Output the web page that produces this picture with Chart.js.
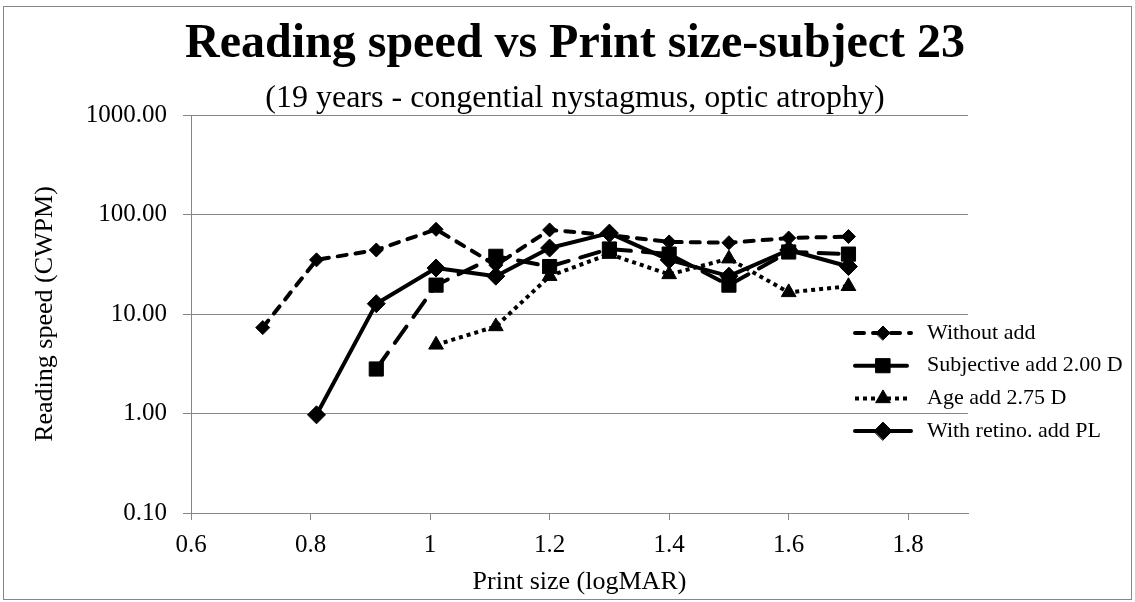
<!DOCTYPE html>
<html>
<head>
<meta charset="utf-8">
<title>Reading speed vs Print size</title>
<script src="https://cdn.jsdelivr.net/npm/chart.js@4.4.0/dist/chart.umd.min.js"></script>
<style>
  html, body { margin: 0; padding: 0; background: #fff; }
  #chart { display: block; }
</style>
</head>
<body>
<canvas id="chart" width="1135" height="602"></canvas>
<script>
// print size (logMAR) and reading speed (CWPM) per condition
const printSize     = [0.72, 0.81, 0.91, 1.01, 1.11, 1.2, 1.3, 1.4, 1.5, 1.6, 1.7];
const withoutAdd    = [7.3, 35, 44, 71, 31, 70, 62, 53, 52, 58, 60];
const subjectiveAdd = [null, null, 2.8, 19.5, 38, 30, 45, 40, 19.5, 42, 40];
const ageAdd        = [null, null, null, 4.9, 7.5, 24, 40, 25, 36, 16.5, 19];
const retinoAdd     = [null, 0.97, 12.7, 29, 24, 46, 65, 35, 24, 44, 30];

const seriesNames = ['Without add', 'Subjective add 2.00 D', 'Age add 2.75 D', 'With retino. add PL'];
const xTicks = [0.6, 0.8, 1, 1.2, 1.4, 1.6, 1.8];
const yTicks = [0.1, 1, 10, 100, 1000];

const titleText = 'Reading speed vs Print size-subject 23';
const subtitleText = '(19 years - congential nystagmus, optic atrophy)';

const FONT = "'Liberation Serif', 'Times New Roman', serif";
const GRID = '#868686';

Chart.defaults.font.family = FONT;
Chart.defaults.color = '#000';

function toPoints(values) {
  return printSize.map((x, i) => ({ x, y: values[i] })).filter(p => p.y !== null);
}

const datasets = [
  { label: seriesNames[0], data: toPoints(withoutAdd),    borderDash: [9, 9],   borderCapStyle: 'round', pointStyle: 'rectRot',  pointRadius: 7 },
  { label: seriesNames[1], data: toPoints(subjectiveAdd), borderDash: [20, 12], borderCapStyle: 'round', pointStyle: 'rect',     pointRadius: 10 },
  { label: seriesNames[2], data: toPoints(ageAdd),        borderDash: [4, 4],   borderCapStyle: 'butt',  pointStyle: 'triangle', pointRadius: 8.5 },
  { label: seriesNames[3], data: toPoints(retinoAdd),     borderDash: [],       borderCapStyle: 'round', pointStyle: 'rectRot',  pointRadius: 9 }
].map(d => Object.assign({
  borderColor: '#000',
  backgroundColor: '#000',
  borderWidth: 4,
  borderJoinStyle: 'round',
  pointBorderWidth: 1,
  tension: 0,
  fill: false
}, d));

/* --------- frame + titles (centred over the plot, not the canvas) --------- */
const frame = {
  id: 'frame',
  beforeDraw(chart) {
    const ctx = chart.ctx;
    ctx.save();
    ctx.fillStyle = '#fff';
    ctx.fillRect(0, 0, chart.width, chart.height);
    ctx.strokeStyle = GRID;
    ctx.lineWidth = 1;
    ctx.strokeRect(3.5, 6.5, 1128, 593);

    ctx.fillStyle = '#000';
    ctx.textAlign = 'center';
    ctx.textBaseline = 'middle';
    ctx.font = 'bold 48px ' + FONT;
    ctx.fillText(titleText, 575, 45);
    ctx.font = '32px ' + FONT;
    ctx.fillText(subtitleText, 575, 99);
    ctx.restore();
  }
};

/* --------- legend inside the plot, like Excel --------- */
const legendBox = {
  id: 'legendBox',
  afterDraw(chart) {
    const ctx = chart.ctx;
    chart.data.datasets.forEach((ds, i) => {
      const y = 333 + i * 32.7;
      ctx.save();
      ctx.strokeStyle = ds.borderColor;
      ctx.lineWidth = ds.borderWidth;
      ctx.lineCap = ds.borderCapStyle;
      ctx.setLineDash(ds.borderDash);
      ctx.beginPath();
      ctx.moveTo(855, y);
      ctx.lineTo(911, y);
      ctx.stroke();
      ctx.setLineDash([]);
      ctx.fillStyle = '#000';
      ctx.strokeStyle = '#000';
      ctx.lineWidth = ds.pointBorderWidth;
      Chart.helpers.drawPoint(ctx, {
        pointStyle: ds.pointStyle,
        radius: ds.pointRadius,
        borderWidth: ds.pointBorderWidth,
        rotation: 0
      }, 883, y);
      ctx.font = '22px ' + FONT;
      ctx.textBaseline = 'middle';
      ctx.textAlign = 'left';
      ctx.fillText(ds.label, 927, y);
      ctx.restore();
    });
  }
};

new Chart(document.getElementById('chart'), {
  type: 'line',
  data: { datasets },
  options: {
    responsive: false,
    animation: false,
    devicePixelRatio: 1,
    layout: { padding: { left: 0, right: 167, top: 115, bottom: 0 } },
    plugins: {
      legend: { display: false },
      tooltip: { enabled: false },
      title: { display: false }
    },
    scales: {
      x: {
        type: 'linear',
        min: 0.6,
        max: 1.9,
        afterBuildTicks: s => { s.ticks = xTicks.map(v => ({ value: v })); },
        afterFit: s => { s.height = 89; },
        grid: { drawOnChartArea: false, drawTicks: true, tickLength: 7, color: GRID },
        border: { color: GRID },
        ticks: {
          font: { size: 25 },
          padding: 10,
          maxRotation: 0,
          callback: v => String(Math.round(v * 10) / 10)
        },
        title: {
          display: true,
          text: 'Print size (logMAR)',
          font: { size: 26 },
          padding: { top: 0, bottom: 4 }
        }
      },
      y: {
        type: 'logarithmic',
        min: 0.1,
        max: 1000,
        afterBuildTicks: s => { s.ticks = yTicks.map(v => ({ value: v })); },
        afterFit: s => { s.width = 191; },
        grid: { color: GRID, tickLength: 8 },
        border: { color: GRID },
        ticks: {
          font: { size: 25 },
          padding: 16,
          callback: v => Number(v).toFixed(2)
        },
        title: {
          display: true,
          text: 'Reading speed (CWPM)',
          font: { size: 26 },
          padding: { top: 30, bottom: 0 }
        }
      }
    }
  },
  plugins: [frame, legendBox]
});
</script>
</body>
</html>
